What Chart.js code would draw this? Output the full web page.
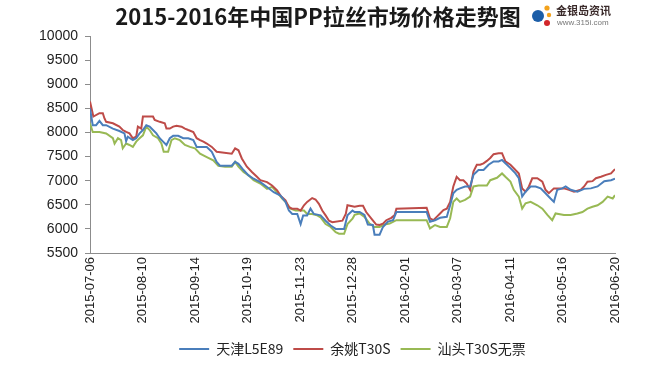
<!DOCTYPE html>
<html><head><meta charset="utf-8">
<script src="https://cdn.jsdelivr.net/npm/chart.js@4/dist/chart.umd.min.js"></script>
<style>html,body{margin:0;padding:0;background:#fff}</style>
</head><body>
<canvas id="c" width="650" height="370"></canvas>
<script>
// x positions are trading-day indexes counted from 2015-07-06 (25 trading days = 5 weeks)
const tickLabels = ['2015-07-06','2015-08-10','2015-09-14','2015-10-19','2015-11-23','2015-12-28','2016-02-01','2016-03-07','2016-04-11','2016-05-16','2016-06-20'];
const seriesNames = ['天津L5E89','余姚T30S','汕头T30S无票'];

const tianjinDays = [0,1.3,2.9,4.5,6.1,7.7,10.9,14.0,16.4,17.2,
 18.0,20.4,22.0,23.6,25.2,26.8,28.4,30.0,31.6,33.2,
 34.8,36.4,38.0,39.6,42.0,44.4,46.8,49.2,50.8,55.6,
 58.0,60.3,61.9,67.5,69.1,70.7,73.1,75.5,77.9,81.1,
 84.3,87.5,90.7,93.1,94.7,96.3,98.7,100.3,101.5,103.4,
 105.0,106.6,109.8,112.2,114.6,117.0,121.0,122.6,125.0,126.0,
 128.4,130.7,132.3,134.7,135.5,137.9,139.5,141.9,144.3,145.9,
 160.3,161.9,164.3,166.7,169.9,171.5,173.0,174.6,176.2,178.6,
 181.0,182.6,185.0,187.4,189.8,192.2,194.6,196.2,197.8,200.2,
 202.6,204.2,205.8,207.4,209.8,212.2,214.6,216.9,219.3,220.9,
 222.5,224.9,226.5,228.9,232.1,235.3,238.5,241.7,244.9,248.1,
 250];
const tianjinPrices = [8500,8150,8150,8240,8150,8150,8080,8030,7980,7820,
 7910,7840,7880,7980,8050,8150,8120,8050,7980,7880,
 7810,7740,7880,7930,7930,7880,7880,7840,7700,7700,
 7600,7390,7310,7310,7390,7350,7220,7110,7040,6970,
 6870,6760,6690,6560,6380,6310,6310,6100,6280,6280,
 6420,6310,6280,6170,6070,6000,6000,6280,6380,6350,
 6350,6290,6090,6080,5880,5880,6040,6150,6180,6350,
 6350,6150,6180,6230,6250,6490,6740,6810,6840,6880,
 6880,7120,7220,7220,7330,7400,7400,7430,7360,7260,
 7150,7050,6670,6770,6880,6880,6840,6740,6630,6560,
 6810,6840,6880,6810,6770,6830,6840,6880,6990,7010,
 7040];

const yuyaoDays = [0,1.6,4.5,6.1,6.9,7.7,10.9,14.0,15.6,17.2,
 18.8,20.4,22.0,22.8,24.4,25.2,30.0,30.8,33.2,35.6,
 36.4,38.0,39.6,41.2,43.6,45.2,46.8,49.2,50.8,52.4,
 54.0,55.6,58.0,60.3,67.5,69.1,70.7,72.3,74.7,77.1,
 79.5,81.1,84.3,86.7,89.1,90.7,93.1,94.7,96.3,98.7,
 100.3,101.9,103.4,105.8,107.4,109.0,110.6,112.2,113.8,115.4,
 120.2,121.8,122.6,126.0,128.4,130.0,131.5,133.9,136.3,137.9,
 139.5,141.1,143.5,145.1,145.9,160.3,161.9,163.5,165.1,166.7,
 168.3,169.9,171.5,173.0,174.6,176.2,177.8,179.4,181.0,182.6,
 184.2,185.8,187.4,189.0,190.6,192.2,194.6,196.2,197.8,200.2,
 202.6,204.2,205.8,207.4,209.0,210.6,213.0,215.4,216.9,218.5,
 220.9,223.3,225.7,228.1,230.5,233.7,235.3,236.9,239.3,240.9,
 243.3,245.7,248.1,250];
const yuyaoPrices = [8640,8330,8400,8400,8290,8220,8190,8120,8050,8010,
 7980,7880,7910,8120,8080,8330,8330,8260,8220,8190,
 8080,8080,8120,8140,8120,8080,8050,8010,7880,7840,
 7810,7770,7700,7600,7560,7670,7630,7460,7290,7180,
 7080,7010,6970,6900,6800,6690,6590,6450,6420,6420,
 6380,6490,6560,6640,6610,6520,6380,6280,6170,6140,
 6170,6310,6490,6460,6480,6480,6350,6220,6090,6080,
 6110,6180,6230,6290,6420,6440,6220,6180,6250,6320,
 6390,6420,6560,6880,7080,7010,7010,6940,6810,7190,
 7330,7330,7360,7410,7470,7550,7570,7570,7400,7330,
 7220,7150,6840,6770,6880,7050,7050,6980,6810,6740,
 6840,6840,6840,6810,6770,6810,6880,6980,6990,7050,
 7080,7120,7150,7240];

const shantouDays = [0,1.3,4.5,7.7,10.9,11.7,13.3,14.8,15.6,17.2,
 18.8,20.4,22.0,23.6,25.2,26.8,28.4,30.0,32.4,34.0,
 35.1,37.2,38.8,40.4,42.8,45.2,47.6,50.0,52.4,55.6,
 58.7,61.1,64.3,67.5,69.1,70.7,73.1,75.5,77.9,81.1,
 84.3,86.7,89.1,91.5,93.1,95.5,97.9,101.9,103.4,105.8,
 108.2,109.8,112.2,114.6,117.0,118.6,121.0,122.6,125.0,126.0,
 128.4,130.7,133.1,135.5,137.9,140.3,142.7,145.9,160.3,161.9,
 164.3,166.7,169.9,171.5,173.0,174.6,176.2,178.6,181.0,182.6,
 185.0,189.0,190.6,193.8,196.2,197.8,200.2,201.8,204.2,205.8,
 207.4,209.8,213.0,215.4,217.8,220.1,221.7,225.7,228.9,232.1,
 234.5,236.9,239.3,241.7,244.1,246.5,248.9,250];
const shantouPrices = [8190,8010,8010,7980,7880,7770,7880,7840,7670,7770,
 7740,7700,7810,7880,7940,8120,8050,7940,7880,7770,
 7600,7600,7840,7880,7840,7740,7700,7670,7560,7490,
 7420,7310,7290,7290,7390,7290,7180,7110,7010,6940,
 6830,6870,6760,6630,6560,6420,6380,6380,6310,6310,
 6280,6240,6100,6040,5930,5900,5900,6100,6210,6290,
 6320,6250,6110,6040,6040,6090,6110,6180,6180,6010,
 6080,6040,6040,6220,6560,6630,6560,6600,6670,6880,
 6900,6900,7010,7060,7150,7080,6980,6810,6670,6420,
 6530,6560,6490,6420,6290,6180,6320,6290,6290,6320,
 6350,6420,6460,6490,6560,6670,6630,6700];

const pts = (xs, ys) => xs.map((x, i) => ({x: x, y: ys[i]}));

const titleLogo = {
  id: 'titleLogo',
  afterDraw(chart) {
    const ctx = chart.ctx;
    ctx.save();
    ctx.fillStyle = '#1a1a1a';
    ctx.font = 'bold 22px "Noto Sans CJK SC"';
    ctx.textAlign = 'center';
    ctx.textBaseline = 'middle';
    ctx.fillText('2015-2016年中国PP拉丝市场价格走势图', 318, 17);
    // logo
    ctx.fillStyle = '#1c5ea8';
    ctx.beginPath(); ctx.arc(538, 16, 6, 0, Math.PI * 2); ctx.fill();
    ctx.fillStyle = '#f3a21c';
    ctx.beginPath(); ctx.arc(547, 8, 2.6, 0, Math.PI * 2); ctx.fill();
    ctx.beginPath(); ctx.arc(549, 15, 2.2, 0, Math.PI * 2); ctx.fill();
    ctx.fillStyle = '#d2262a';
    ctx.beginPath(); ctx.arc(547, 23, 3, 0, Math.PI * 2); ctx.fill();
    ctx.textAlign = 'left';
    ctx.fillStyle = '#3a2a2a';
    ctx.font = 'bold 11px "Noto Sans CJK SC"';
    ctx.fillText('金银岛资讯', 556, 11);
    ctx.fillStyle = '#777';
    ctx.font = '8px "Liberation Sans"';
    ctx.fillText('www.315i.com', 557, 23);
    ctx.restore();
  }
};

new Chart(document.getElementById('c'), {
  type: 'line',
  data: {
    datasets: [
      {label: seriesNames[0], data: pts(tianjinDays, tianjinPrices), borderColor: '#4a7ebb', backgroundColor: '#4a7ebb', borderWidth: 2},
      {label: seriesNames[1], data: pts(yuyaoDays, yuyaoPrices), borderColor: '#be4b48', backgroundColor: '#be4b48', borderWidth: 2},
      {label: seriesNames[2], data: pts(shantouDays, shantouPrices), borderColor: '#98b954', backgroundColor: '#98b954', borderWidth: 2}
    ]
  },
  options: {
    responsive: false,
    animation: false,
    devicePixelRatio: 1,
    elements: {line: {borderWidth: 2, tension: 0}, point: {radius: 0}},
    layout: {padding: {left: 0, right: 35, top: 36, bottom: 4}},
    scales: {
      x: {
        type: 'linear', min: 0, max: 250,
        ticks: {stepSize: 25, autoSkip: false, minRotation: 90, maxRotation: 90, padding: 4,
          color: '#222', font: {family: 'Liberation Sans', size: 13},
          callback: (v) => (v % 25 === 0 ? tickLabels[v / 25] : '')},
        grid: {display: false, drawTicks: false},
        border: {display: true, color: '#8c8c8c', width: 1},
        afterFit: (s) => { s.height = 79; }
      },
      y: {
        min: 5500, max: 10000,
        ticks: {stepSize: 500, padding: 7, color: '#222', font: {family: 'Liberation Sans', size: 14},
          callback: (v) => String(v)},
        grid: {drawOnChartArea: false, drawTicks: true, tickLength: 5, color: '#8c8c8c'},
        border: {display: true, color: '#8c8c8c', width: 1},
        afterFit: (s) => { s.width = 90; }
      }
    },
    plugins: {
      tooltip: {enabled: false},
      title: {display: false},
      legend: {
        position: 'bottom',
        fullSize: false,
        labels: {usePointStyle: true, pointStyle: 'line', pointStyleWidth: 30, padding: 10,
          color: '#222', font: {family: 'Noto Sans CJK SC', size: 14}}
      }
    }
  },
  plugins: [titleLogo]
});
</script>
</body></html>
